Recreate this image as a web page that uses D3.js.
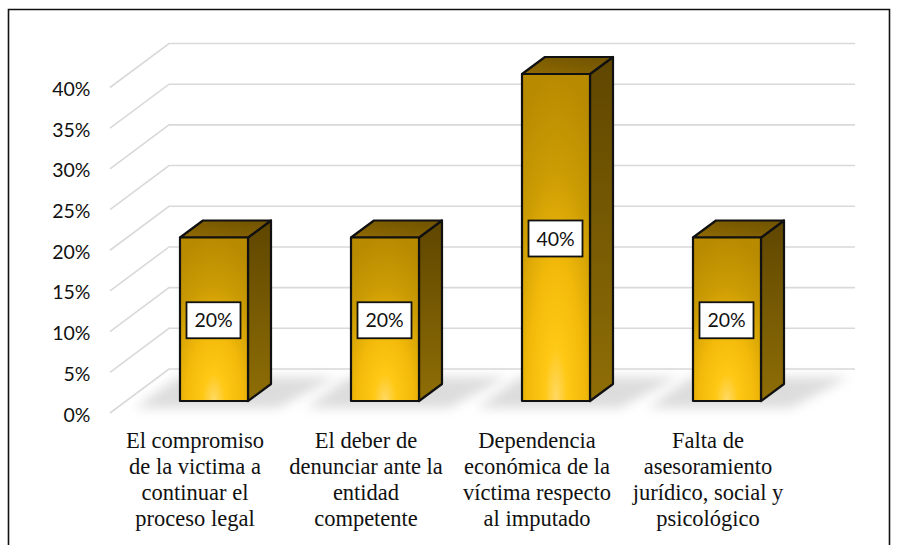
<!DOCTYPE html>
<html lang="es">
<head>
<meta charset="utf-8">
<script src="https://cdnjs.cloudflare.com/ajax/libs/d3/7.8.5/d3.min.js"></script>
<style>
html,body{margin:0;padding:0;background:#fff}
svg{display:block}
</style>
</head>
<body>
<svg id="chart" width="901" height="545"></svg>
<script>
const categories = [
  ["El compromiso","de la victima a","continuar el","proceso legal"],
  ["El deber de","denunciar ante la","entidad","competente"],
  ["Dependencia","económica de la","víctima respecto","al imputado"],
  ["Falta de","asesoramiento","jurídico, social y","psicológico"]
];
const values = [20, 20, 40, 20];
const tickValues = [0, 5, 10, 15, 20, 25, 30, 35, 40];

const svg = d3.select("#chart");
const defs = svg.append("defs");

const x = d3.scaleBand().domain(d3.range(categories.length)).range([128.5, 812.5]).paddingInner(0).paddingOuter(0);
const barW = 68, depthX = 23, depthY = -17;
const yBar = d3.scaleLinear().domain([0, 40]).range([401, 74]);
const yFront = d3.scaleLinear().domain([0, 40]).range([413, 87.5]);
const yBack = d3.scaleLinear().domain([0, 40]).range([369, 43.5]);
const gridX0 = 110, gridX1 = 169, gridX2 = 855;

// gradients
const front = defs.append("radialGradient").attr("id","gFront")
  .attr("cx",0.5).attr("cy",1).attr("r",1.0).attr("gradientUnits","objectBoundingBox");
[[0,"#ffd966"],[0.17,"#ffc814"],[0.42,"#f2b90a"],[0.7,"#cc9c04"],[1,"#b88a00"]].forEach(([o,c])=>front.append("stop").attr("offset",o).attr("stop-color",c));
const side = defs.append("linearGradient").attr("id","gSide").attr("x1",0).attr("y1",1).attr("x2",0).attr("y2",0);
[[0,"#8f6e06"],[1,"#5f4600"]].forEach(([o,c])=>side.append("stop").attr("offset",o).attr("stop-color",c));
const top_ = defs.append("linearGradient").attr("id","gTop").attr("x1",0).attr("y1",1).attr("x2",1).attr("y2",0);
[[0,"#8f6a02"],[1,"#6f5200"]].forEach(([o,c])=>top_.append("stop").attr("offset",o).attr("stop-color",c));
const blur = defs.append("filter").attr("id","soft").attr("x","-30%").attr("y","-100%").attr("width","160%").attr("height","300%");
blur.append("feGaussianBlur").attr("stdDeviation",5.5);

// border
svg.append("path").attr("d","M8.5,545V9.5H889.5V545").attr("fill","none").attr("stroke","#111").attr("stroke-width",1.6);

// grid
const grid = svg.append("g");
grid.selectAll("path").data(tickValues).join("path")
  .attr("d", d => d3.line()([[gridX0,yFront(d)],[gridX1,yBack(d)],[gridX2,yBack(d)]]))
  .attr("fill","none").attr("stroke","#d9d9d9").attr("stroke-width",1.6);

// floor shadows
svg.append("g").selectAll("path").data(values).join("path")
  .attr("d",(d,i)=>{
    const l=x(i)+(x.bandwidth()-barW)/2;
    return d3.line()([[l-45,408],[l+barW+30,408],[l+barW+depthX+65,377],[l+depthX-25,377]])+"Z";
  })
  .attr("fill","#c8c8c8").attr("opacity",0.62).attr("filter","url(#soft)");

// y labels
svg.append("g").selectAll("text").data(tickValues).join("text")
  .attr("x",90.5).attr("y",d=>yFront(d)+1.5).attr("dy","0.36em")
  .attr("text-anchor","end").attr("font-family","Lato, 'Open Sans', sans-serif").attr("font-size",19.5).attr("fill","#111")
  .text(d=>d+"%");

// bars
const bars = svg.append("g").selectAll("g").data(values).join("g")
  .attr("transform",(d,i)=>`translate(${x(i)+(x.bandwidth()-barW)/2},0)`);
const stroke = {stroke:"#111","stroke-width":2.2,"stroke-linejoin":"round"};
function st(s){Object.entries(stroke).forEach(([k,v])=>s.attr(k,v));return s;}
st(bars.append("path").attr("fill","url(#gSide)")
  .attr("d",d=>d3.line()([[barW,yBar(d)],[barW+depthX,yBar(d)+depthY],[barW+depthX,yBar(0)+depthY],[barW,yBar(0)]])+"Z"));
st(bars.append("path").attr("fill","url(#gTop)")
  .attr("d",d=>d3.line()([[0,yBar(d)],[depthX,yBar(d)+depthY],[barW+depthX,yBar(d)+depthY],[barW,yBar(d)]])+"Z"));
st(bars.append("rect").attr("fill","url(#gFront)").attr("x",0).attr("width",barW)
  .attr("y",d=>yBar(d)).attr("height",d=>yBar(0)-yBar(d)));

// data labels
const lab = bars.append("g").attr("transform",d=>`translate(${barW/2-0.5},${(yBar(d)+yBar(0))/2+1})`);
lab.append("rect").attr("x",-27).attr("y",-18).attr("width",54).attr("height",36).attr("fill","#fff").attr("stroke","#111").attr("stroke-width",1.8);
lab.append("text").attr("text-anchor","middle").attr("dy","0.36em")
  .attr("font-family","Lato, 'Open Sans', sans-serif").attr("font-size",19.5).attr("fill","#111").text(d=>d+"%");

// category labels
const cat = svg.append("g").selectAll("text").data(categories).join("text")
  .attr("text-anchor","middle").attr("font-family","'Liberation Serif', serif").attr("font-size",22.5).attr("fill","#111");
cat.selectAll("tspan").data((d,i)=>d.map(t=>({t,i}))).join("tspan")
  .attr("x",d=>x(d.i)+x.bandwidth()/2-19).attr("y",(d,j)=>448+j*26).text(d=>d.t);
</script>
</body>
</html>
